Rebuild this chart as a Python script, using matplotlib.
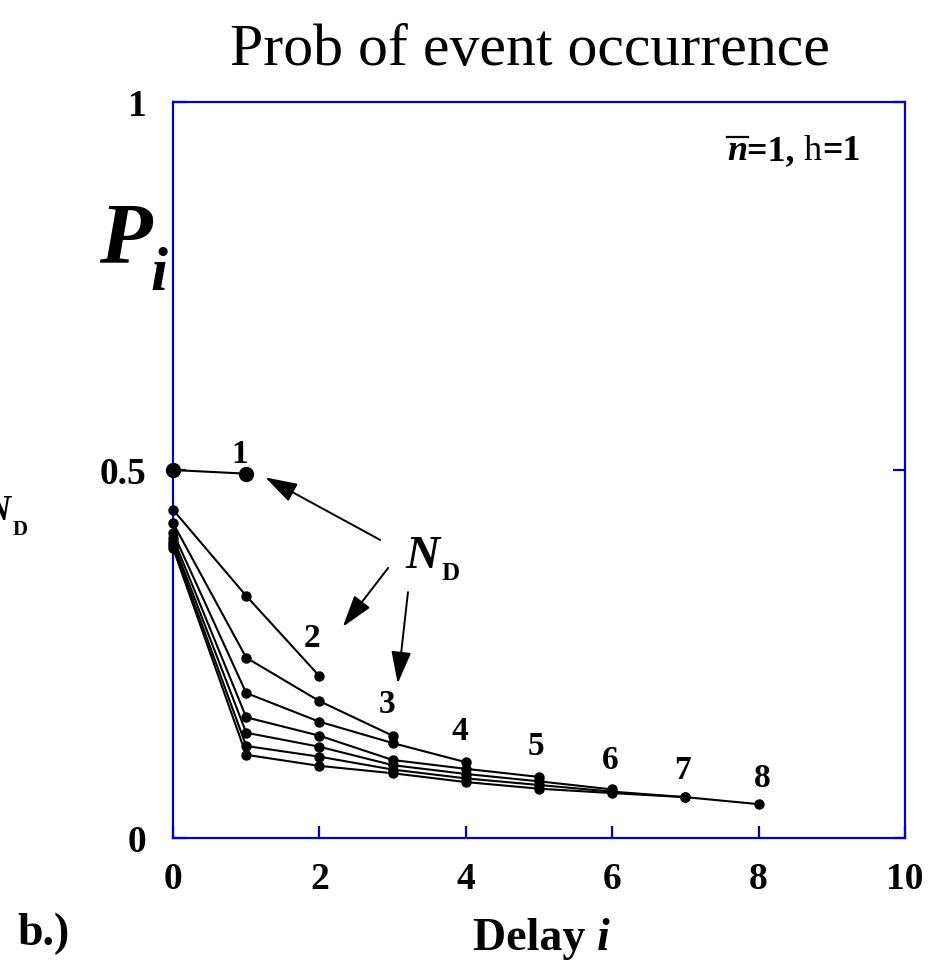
import matplotlib
matplotlib.use("Agg")
import matplotlib.pyplot as plt
from matplotlib.lines import Line2D

# ---- data ----
nd_labels = ["1", "2", "3", "4", "5", "6", "7", "8"]
p_nd1 = [0.500, 0.495]
p_nd2 = [0.446, 0.329, 0.220]
p_nd3 = [0.428, 0.245, 0.186, 0.139]
p_nd4 = [0.415, 0.197, 0.158, 0.129, 0.103]
p_nd5 = [0.408, 0.164, 0.139, 0.106, 0.094, 0.083]
p_nd6 = [0.402, 0.143, 0.124, 0.099, 0.087, 0.077, 0.066]
p_nd7 = [0.398, 0.125, 0.1105, 0.093, 0.081, 0.072, 0.063, 0.0555]
p_nd8 = [0.394, 0.113, 0.098, 0.088, 0.076, 0.067, 0.061, 0.0555, 0.046]
series = [p_nd1, p_nd2, p_nd3, p_nd4, p_nd5, p_nd6, p_nd7, p_nd8]

# label positions (data coords, baseline)
label_x = [0.915, 1.899, 2.923, 3.921, 4.959, 5.970, 6.967, 8.046]
label_y = [0.5095, 0.2595, 0.1698, 0.1332, 0.1128, 0.0938, 0.0802, 0.0693]

x_ticks = [0, 2, 4, 6, 8, 10]
y_ticks = [0, 0.5, 1]
y_tick_labels = ["0", "0.5", "1"]

SERIF = "Liberation Serif"
BLUE = "#0000CC"

fig = plt.figure(figsize=(9.42, 9.64), dpi=100)
ax = fig.add_axes([173/942, (964-838)/964, (905-173)/942, (838-102)/964])
ax.set_xlim(0, 10)
ax.set_ylim(0, 1)

for k, vals in enumerate(series):
    xs = list(range(len(vals)))
    ms = 10 if k == 0 else 6.5
    ax.plot(xs, vals, color="black", lw=1.5, marker="o", ms=ms,
            mfc="black", mec="black", clip_on=False, zorder=5)

for lab, lx, ly in zip(nd_labels, label_x, label_y):
    ax.text(lx, ly, lab, ha="center", va="baseline", fontsize=24,
            fontweight="bold", family=SERIF)

for s in ax.spines.values():
    s.set_color(BLUE)
    s.set_linewidth(1.6)

ax.set_xticks(x_ticks)
ax.set_xticklabels([str(t) for t in x_ticks])
ax.set_yticks(y_ticks)
ax.set_yticklabels(y_tick_labels)
ax.tick_params(axis="x", direction="in", length=9, width=1.6, color=BLUE,
               pad=17, labelsize=27)
ax.tick_params(axis="y", direction="in", length=9, width=1.6, color=BLUE,
               pad=19, labelsize=27, right=True)
for lab in ax.get_xticklabels() + ax.get_yticklabels():
    lab.set_family(SERIF)
    lab.set_fontweight("bold")

# title
fig.text(530/942, (964-65)/964, "Prob of event occurrence", ha="center",
         va="baseline", fontsize=43, family=SERIF)

# P_i
fig.text(99/942, (964-262)/964, "P", ha="left", va="baseline", fontsize=62,
         family=SERIF, fontweight="bold", style="italic")
fig.text(150/942, (964-290)/964, "i", ha="left", va="baseline", fontsize=44,
         family=SERIF, fontweight="bold", style="italic")

# annotation n-bar = 1, h = 1
t1 = ax.text(727/942, (964-160)/964, "n", transform=fig.transFigure,
             ha="left", va="baseline", fontsize=26, family=SERIF,
             fontweight="bold", style="italic")
t2 = ax.annotate("=1, ", xy=(1, 0), xycoords=t1, ha="left", va="bottom",
                 fontsize=26, family=SERIF, fontweight="bold")
t3 = ax.annotate("h", xy=(1, 0), xycoords=t2, ha="left", va="bottom",
                 fontsize=26, family=SERIF)
t4 = ax.annotate("=1", xy=(1, 0), xycoords=t3, ha="left", va="bottom",
                 fontsize=26, family=SERIF, fontweight="bold")
fig.add_artist(Line2D([727/942, 748/942], [(964-137)/964]*2,
                      color="black", lw=1.6, transform=fig.transFigure))

# N_D label and arrows
ax.text(3.17, 0.367, "N", ha="left", va="baseline", fontsize=34,
        family=SERIF, fontweight="bold", style="italic")
ax.text(3.67, 0.350, "D", ha="left", va="baseline", fontsize=18,
        family=SERIF, fontweight="bold")
arrows = [((2.83, 0.405), (1.26, 0.490)),
          ((2.94, 0.367), (2.32, 0.287)),
          ((3.21, 0.334), (3.07, 0.210))]
for tail, head in arrows:
    ax.annotate("", xy=head, xytext=tail,
                arrowprops=dict(arrowstyle="-|>,head_length=0.9,head_width=0.28",
                                color="black", lw=1.4, shrinkA=0, shrinkB=0,
                                mutation_scale=22))

# left cut-off N_D (cut at the figure edge as in the reference)
fig.text(10/942, (964-520)/964, "N", ha="right", va="baseline", fontsize=25,
         family=SERIF, fontweight="bold", style="italic")
fig.text(13/942, (964-535)/964, "D", ha="left", va="baseline", fontsize=15,
         family=SERIF, fontweight="bold")

# x label
fig.text(597/942, (964-950)/964, "Delay ", ha="right", va="baseline",
         fontsize=33, family=SERIF, fontweight="bold")
fig.text(597/942, (964-950)/964, "i", ha="left", va="baseline",
         fontsize=33, family=SERIF, fontweight="bold", style="italic")

# panel label
fig.text(17/942, (964-945)/964, "b.)", ha="left", va="baseline",
         fontsize=33, family=SERIF, fontweight="bold")

fig.savefig("out.png", dpi=100)
